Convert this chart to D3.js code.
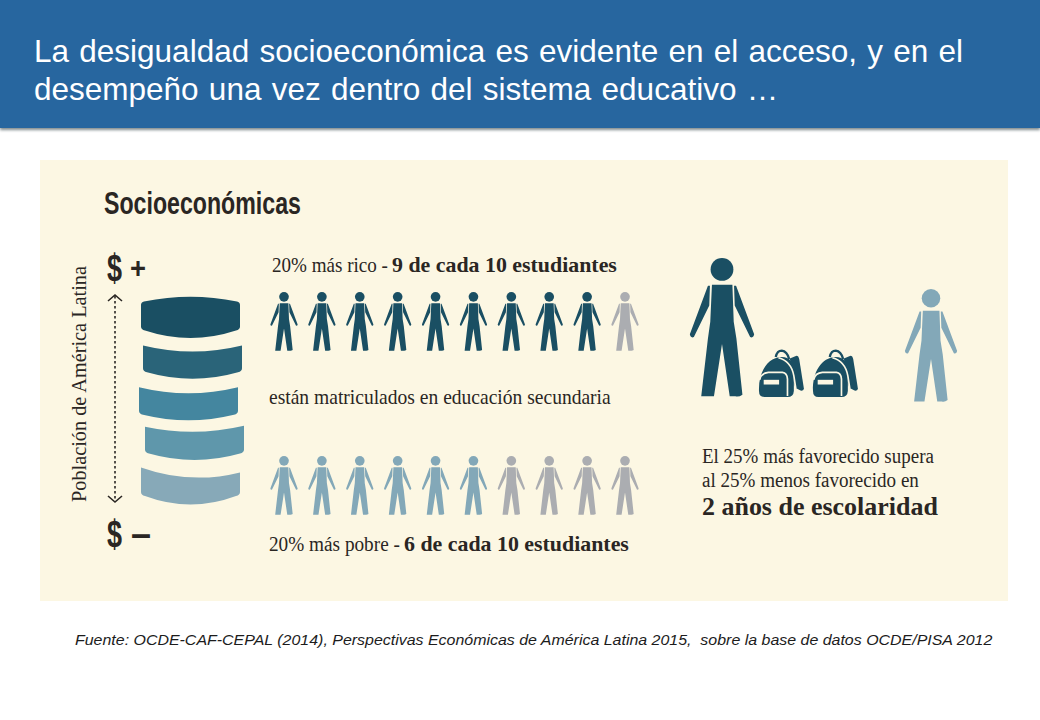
<!DOCTYPE html>
<html>
<head>
<meta charset="utf-8">
<script src="https://cdn.jsdelivr.net/npm/d3@7"></script>
<style>
  html, body { margin: 0; padding: 0; background: #fff; }
  svg { display: block; }
</style>
</head>
<body>
<svg id="chart" width="1040" height="720"></svg>
<script>
// Data
const titleLines = [
    "La desigualdad socioeconómica es evidente en el acceso, y en el",
    "desempeño una vez dentro del sistema educativo …"
];
const quintiles = ["Q5", "Q4", "Q3", "Q2", "Q1"];
const quintileShare = [20, 20, 20, 20, 20];
const studentSlots = d3.range(1, 11);       // 10 students in each row
const enrolledRich = 9;
const enrolledPoor = 6;
const schoolingGapYears = [1, 2];           // one backpack per year

const dark = "#1a4f63", light = "#83a8b8", grey = "#abadb1", ink = "#2a2623";
const cream = "#fcf7e3";
const serif = "'Liberation Serif', serif";
const narrow = "'Liberation Sans Narrow', 'Liberation Sans', sans-serif";
const quintileColors = ["#1a4f63", "#2a6479", "#44869f", "#5f97ab", "#87a9b8"];

const svg = d3.select("#chart");

// header bar with its soft shadow
const defs = svg.append("defs");
const blur = defs.append("filter").attr("id", "soft").attr("y", "-20%").attr("height", "140%");
blur.append("feGaussianBlur").attr("stdDeviation", 1.6);
svg.append("rect").attr("x", 0).attr("y", 5).attr("width", 1040).attr("height", 125)
    .attr("fill", "#7f898c").attr("filter", "url(#soft)");
svg.append("rect").attr("x", 0).attr("y", 0).attr("width", 1040).attr("height", 128).attr("fill", "#27669f");

svg.selectAll(".title").data(titleLines).join("text")
    .attr("class", "title")
    .attr("x", 34)
    .attr("y", (d, i) => 62 + i * 38)
    .attr("font-family", "'Liberation Sans', Arial, sans-serif")
    .attr("font-size", 31.5)
    .attr("fill", "#fff")
    .attr("word-spacing", 1.5)
    .text(d => d);

// cream panel
svg.append("rect").attr("x", 40).attr("y", 160).attr("width", 968).attr("height", 441).attr("fill", cream);

// fits a text to the width it has in the picture
function fit(sel, w) {
    sel.each(function() {
        const len = this.getComputedTextLength();
        const x = +this.getAttribute("x"), y = +this.getAttribute("y");
        this.setAttribute("transform", `translate(${x},${y}) scale(${w / len},1) translate(${-x},${-y})`);
    });
    return sel;
}

function label(x, y, size, str, w, bold) {
    const t = svg.append("text").attr("x", x).attr("y", y)
        .attr("font-family", serif).attr("font-size", size).attr("fill", ink)
        .attr("font-weight", bold ? "bold" : "normal")
        .text(str);
    return fit(t, w);
}

fit(svg.append("text").attr("x", 104).attr("y", 214)
    .attr("font-family", narrow).attr("font-weight", "bold").attr("font-size", 31).attr("fill", ink)
    .text("Socioeconómicas"), 197);

// $ + and $ - ends of the arrow
[["$", 107, 281, 38, 15], ["+", 130, 278, 30, 16], ["$", 107, 547, 38, 15], ["–", 131, 546, 36, 20]].forEach(d => {
    fit(svg.append("text").attr("x", d[1]).attr("y", d[2])
        .attr("font-family", narrow).attr("font-weight", "bold").attr("font-size", d[3]).attr("fill", ink)
        .text(d[0]), d[4]);
});

// population axis
svg.append("text")
    .attr("transform", "translate(86,502) rotate(-90)")
    .attr("font-family", serif).attr("font-size", 21).attr("fill", ink)
    .attr("textLength", 236).attr("lengthAdjust", "spacingAndGlyphs")
    .text("Población de América Latina");
svg.append("line").attr("x1", 115).attr("x2", 115).attr("y1", 296).attr("y2", 501)
    .attr("stroke", ink).attr("stroke-width", 1.6).attr("stroke-dasharray", "2.5 2.5");
svg.append("path").attr("d", "M108,301 L115,295 L122,301 M108,496 L115,502 L122,496")
    .attr("fill", "none").attr("stroke", ink).attr("stroke-width", 1.6);

// the five stacked slabs, one per 20% of the population
const cum = d3.cumsum(quintileShare);
const yPop = d3.scaleLinear().domain([0, 100]).range([297, 505]);
const slabW = 99;
// small hand adjustments so each slab sits as drawn: dx, top inset, bottom inset, top sag L/R, bottom sag
const slabShape = [
    { dx: 141, t: 0, b: 1, top: -5, topR: -5, bot: 8 },
    { dx: 143, t: 7, b: 2, top: 6, topR: 6, bot: 7 },
    { dx: 139, t: 7, b: 2, top: 6, topR: 6, bot: 6 },
    { dx: 145, t: 5, b: 4, top: 5, topR: 6, bot: 7 },
    { dx: 141, t: 4, b: 1, top: 10, topR: 5, bot: 9 }
];
svg.selectAll(".slab").data(quintiles).join("path")
    .attr("class", "slab")
    .attr("fill", (d, i) => quintileColors[i])
    .attr("d", (d, i) => {
        const s = slabShape[i];
        const yTop = yPop(i == 0 ? 0 : cum[i - 1]) + s.t;
        const yBot = yPop(cum[i]) - s.b;
        const x0 = s.dx, x1 = s.dx + slabW, xm = s.dx + slabW / 2;
        const topL = s.top < 0 ? yTop - s.top : yTop;
        const topR = s.top < 0 ? yTop - s.top : yTop + s.top - s.topR;
        const topM = s.top < 0 ? yTop : yTop + s.top;
        const botE = yBot - s.bot;
        const r = i == 0 ? 3 : 0;       // only the top slab has a rounded upper edge
        const p = d3.path();
        p.moveTo(x0, topL + r);
        if (r) p.quadraticCurveTo(x0, topL, x0 + r, topL - 0.5);
        p.quadraticCurveTo(xm, 2 * topM - (topL + topR) / 2, x1 - r, topR - (r ? 0.5 : 0));
        if (r) p.quadraticCurveTo(x1, topR, x1, topR + r);
        p.lineTo(x1, botE - 3);
        p.quadraticCurveTo(x1, botE, x1 - 4, botE + 1);
        p.quadraticCurveTo(xm, yBot + s.bot, x0 + 4, botE + 1);
        p.quadraticCurveTo(x0, botE, x0, botE - 3);
        p.closePath();
        return p.toString();
    });

// person icon, drawn 415 units tall around x = 0
const personPath = "M-30,80 L31,80 L35,190 L43,240 L61,408 Q50,416 40,413 L23,413 L0,257 L-24,413 L-62,413 L-42,240 L-35,190 Z" +
    "M-42,83 L-36,83 L-38,142 L-84,236 Q-94,240 -96,228 Z" +
    "M42,83 L36,83 L38,142 L84,236 Q94,240 96,228 Z";

function person(x, yTop, h, color) {
    const g = svg.append("g").attr("transform", `translate(${x},${yTop}) scale(${h / 415})`).attr("fill", color);
    g.append("circle").attr("cx", 0).attr("cy", 34).attr("r", 34);
    g.append("path").attr("d", personPath);
}

const xStudent = d3.scalePoint().domain(studentSlots).range([284, 625]);
function studentRow(yTop, enrolled, color) {
    studentSlots.forEach(s => person(xStudent(s), yTop, 59, s <= enrolled ? color : grey));
}
studentRow(292, enrolledRich, dark);
studentRow(456, enrolledPoor, light);

label(272, 272, 20.5, "20% más rico -", 116);
label(392, 272, 21, "9 de cada 10 estudiantes", 225, true);
label(269, 404, 20.5, "están matriculados en educación secundaria", 342);
label(269, 551, 20.5, "20% más pobre -", 131);
label(404, 551, 21, "6 de cada 10 estudiantes", 225, true);

// big figures and the backpacks between them
person(722, 258, 139, dark);
person(931, 289, 113, light);

const xPack = d3.scalePoint().domain(schoolingGapYears).range([759, 813]);
schoolingGapYears.forEach(y => {
    const g = svg.append("g").attr("transform", `translate(${xPack(y)},349) scale(0.335)`);
    g.append("path").attr("fill", dark)
        .attr("d", "M0,125 C-2,70 25,25 68,24 C92,24 102,40 104,62 L104,125 Q103,143 85,143 L16,143 Q0,143 0,125 Z");
    g.append("path").attr("fill", "none").attr("stroke", dark).attr("stroke-width", 7)
        .attr("d", "M50,24 Q54,5 68,5 Q84,7 90,30");
    g.append("path").attr("fill", dark)
        .attr("d", "M92,28 L112,20 Q118,20 120,30 L134,118 Q134,126 124,124 L108,116 Z");
    g.append("path").attr("fill", "none").attr("stroke", cream).attr("stroke-width", 5)
        .attr("d", "M2,92 Q6,72 28,70 L70,70 Q84,72 85,90 L85,140 M58,26 Q96,36 104,80 L110,118");
    g.append("rect").attr("x", 14).attr("y", 92).attr("width", 46).attr("height", 14).attr("fill", cream);
});

label(702, 463, 20.5, "El 25% más favorecido supera", 232);
label(702, 487, 20.5, "al 25% menos favorecido en", 217);
label(702, 515, 25, "2 años de escolaridad", 236, true);

// source note
fit(svg.append("text").attr("x", 75).attr("y", 645)
    .attr("font-family", "'Liberation Sans', Arial, sans-serif").attr("font-style", "italic")
    .attr("font-size", 14.5).attr("fill", "#1c1c1c")
    .style("white-space", "pre")
    .text("Fuente: OCDE-CAF-CEPAL (2014), Perspectivas Económicas de América Latina 2015,  sobre la base de datos OCDE/PISA 2012"), 918);
</script>
</body>
</html>
